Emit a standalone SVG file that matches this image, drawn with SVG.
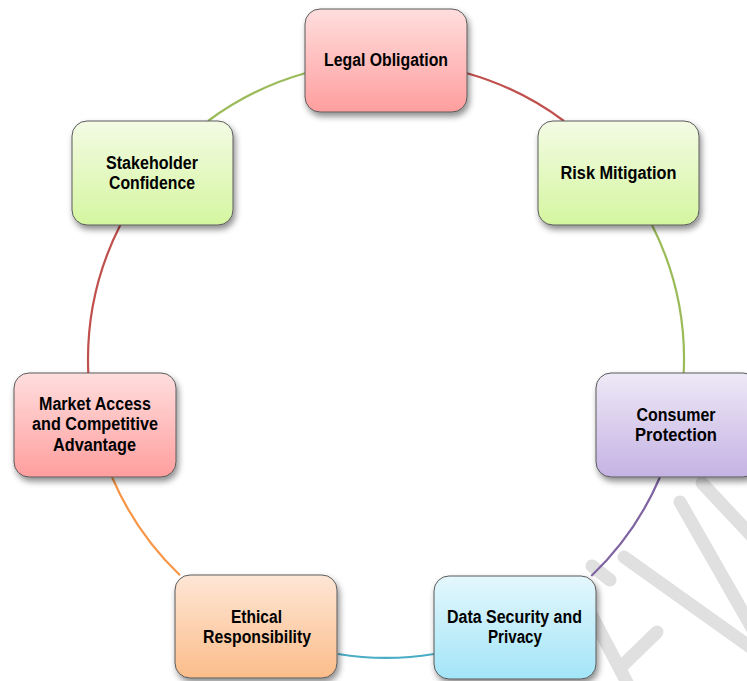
<svg xmlns="http://www.w3.org/2000/svg" width="747" height="681" viewBox="0 0 747 681">
<style>
.box{stroke:#5a5a5a;stroke-width:1;filter:url(#sh)}
.lbl{font-family:"Liberation Sans",Arial,sans-serif;font-weight:bold;font-size:18px;fill:#000;text-anchor:middle}
.con{fill:none;stroke-width:2.2}
.wm{stroke:#e0e0e0;stroke-width:13;stroke-linecap:round;fill:none}
</style>
<defs>
<filter id="sh" x="-20%" y="-20%" width="150%" height="150%">
<feDropShadow dx="2" dy="4" stdDeviation="3" flood-color="#000" flood-opacity="0.45"/>
</filter>
<linearGradient id="gRed" x1="0" y1="0" x2="0" y2="1"><stop offset="0" stop-color="#ffdede"/><stop offset="1" stop-color="#ff9e9e"/></linearGradient>
<linearGradient id="gGreen" x1="0" y1="0" x2="0" y2="1"><stop offset="0" stop-color="#f3fbe4"/><stop offset="1" stop-color="#d5f6a0"/></linearGradient>
<linearGradient id="gPurple" x1="0" y1="0" x2="0" y2="1"><stop offset="0" stop-color="#eee9f6"/><stop offset="1" stop-color="#c5b2e4"/></linearGradient>
<linearGradient id="gBlue" x1="0" y1="0" x2="0" y2="1"><stop offset="0" stop-color="#e4f7fc"/><stop offset="1" stop-color="#a3e5f8"/></linearGradient>
<linearGradient id="gOrange" x1="0" y1="0" x2="0" y2="1"><stop offset="0" stop-color="#fee6d6"/><stop offset="1" stop-color="#fbbd8a"/></linearGradient>
</defs>
<rect width="747" height="681" fill="#fff"/>
<g id="watermark">
<line class="wm" x1="702" y1="483" x2="760" y2="545"/>
<line class="wm" x1="680" y1="502" x2="760" y2="642"/>
<line class="wm" x1="624" y1="557" x2="760" y2="654"/>
<line class="wm" x1="592" y1="566" x2="610" y2="580"/>
<line class="wm" x1="657" y1="632" x2="620" y2="668"/>
<line class="wm" x1="592" y1="616" x2="632" y2="692"/>
</g>
<g id="connectors">
<path class="con" stroke="#c0504d" d="M467,73.2 A298,298 0 0 1 564,121"/>
<path class="con" stroke="#9bbb59" d="M652,225 A298,298 0 0 1 683.7,373"/>
<path class="con" stroke="#8064a2" d="M660,477 A298,298 0 0 1 591.3,576"/>
<path class="con" stroke="#4bacc6" d="M434,654 A298,298 0 0 1 338,654"/>
<path class="con" stroke="#f79646" d="M180,575.3 A298,298 0 0 1 112,477"/>
<path class="con" stroke="#c0504d" d="M88.3,373 A298,298 0 0 1 120.3,225"/>
<path class="con" stroke="#9bbb59" d="M208,121 A298,298 0 0 1 305,73.2"/>
</g>
<g id="legal">
<rect class="box" x="305" y="9" width="162" height="103" rx="15" fill="url(#gRed)"/>
<text class="lbl" x="386" y="66" textLength="124" lengthAdjust="spacingAndGlyphs">Legal Obligation</text>
</g>
<g id="risk">
<rect class="box" x="538" y="121" width="161" height="104" rx="15" fill="url(#gGreen)"/>
<text class="lbl" x="618.5" y="179" textLength="116" lengthAdjust="spacingAndGlyphs">Risk Mitigation</text>
</g>
<g id="consumer">
<rect class="box" x="596" y="373" width="162" height="104" rx="15" fill="url(#gPurple)"/>
<text class="lbl" x="676" y="421" textLength="79" lengthAdjust="spacingAndGlyphs">Consumer</text>
<text class="lbl" x="676" y="441" textLength="82" lengthAdjust="spacingAndGlyphs">Protection</text>
</g>
<g id="data">
<rect class="box" x="434" y="576" width="162" height="103" rx="15" fill="url(#gBlue)"/>
<text class="lbl" x="514.5" y="623" textLength="135" lengthAdjust="spacingAndGlyphs">Data Security and</text>
<text class="lbl" x="515" y="643" textLength="54" lengthAdjust="spacingAndGlyphs">Privacy</text>
</g>
<g id="ethical">
<rect class="box" x="175" y="575" width="162" height="103" rx="15" fill="url(#gOrange)"/>
<text class="lbl" x="256.5" y="623" textLength="51" lengthAdjust="spacingAndGlyphs">Ethical</text>
<text class="lbl" x="257" y="643" textLength="108" lengthAdjust="spacingAndGlyphs">Responsibility</text>
</g>
<g id="market">
<rect class="box" x="14" y="373" width="162" height="104" rx="15" fill="url(#gRed)"/>
<text class="lbl" x="95" y="410" textLength="112" lengthAdjust="spacingAndGlyphs">Market Access</text>
<text class="lbl" x="95" y="430" textLength="126" lengthAdjust="spacingAndGlyphs">and Competitive</text>
<text class="lbl" x="94.5" y="451" textLength="83" lengthAdjust="spacingAndGlyphs">Advantage</text>
</g>
<g id="stakeholder">
<rect class="box" x="72" y="121" width="161" height="104" rx="15" fill="url(#gGreen)"/>
<text class="lbl" x="152" y="169" textLength="92" lengthAdjust="spacingAndGlyphs">Stakeholder</text>
<text class="lbl" x="152" y="189" textLength="86" lengthAdjust="spacingAndGlyphs">Confidence</text>
</g>
</svg>
